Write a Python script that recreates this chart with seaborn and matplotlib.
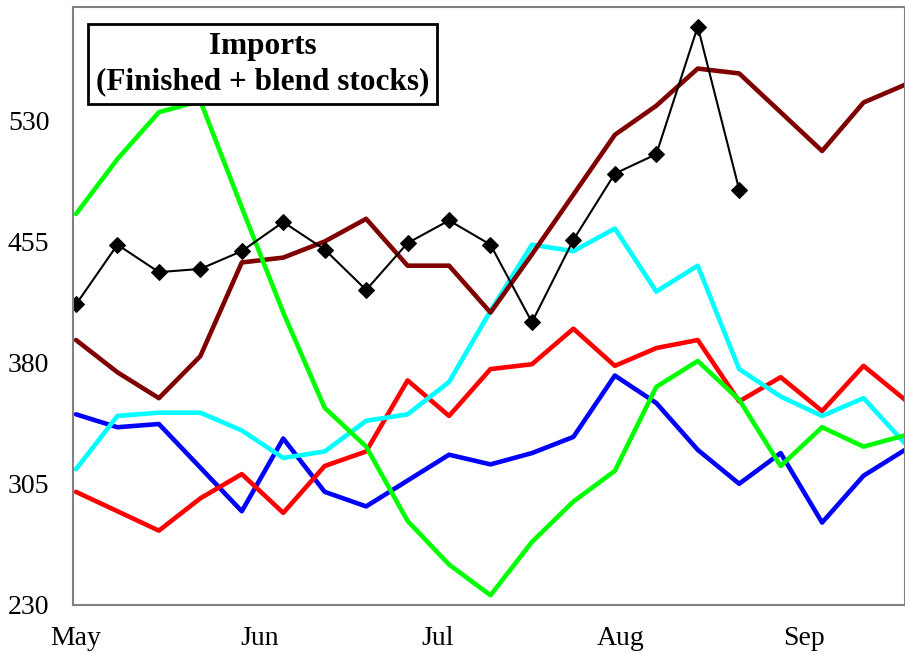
import numpy as np
import pandas as pd
import matplotlib
matplotlib.use('Agg')
import matplotlib.pyplot as plt
import matplotlib.dates as mdates
import seaborn as sns

sns.set_style('white')
plt.rcParams['font.family'] = ['Liberation Serif', 'DejaVu Serif']

# weekly dates
weeks = pd.date_range('2023-05-01', periods=21, freq='7D')

# series values
blue = [348, 340, 342, 315, 288, 333, 300, 291, 307, 323, 317, 324, 334, 372,
        355, 326, 305, 324, 281, 310, 326]
red = [300, 288, 276, 296, 311, 287, 316, 325, 369, 347, 376, 379, 401, 378,
       389, 394, 356, 371, 350, 378, 357]
cyan = [314, 347, 349, 349, 338, 321, 325, 344, 348, 368, 412, 453, 449, 463,
        424, 440, 376, 359, 347, 358, 330]
darkred = [394, 374, 358, 384, 442, 445, 455, 469, 440, 440, 411, 447, 484, 521,
           539, 562, 559, 535, 511, 541, 552]
green = [472, 506, 535, 542, 476, 411, 352, 328, 282, 255, 236, 269, 294, 313,
         365, 381, 357, 316, 340, 328, 335]
black = [416, 453, 436, 438, 449, 467, 450, 425, 454, 468, 453, 405, 456, 497,
         509, 588, 487]

series = [
    ('blue', blue, '#0000ff'),
    ('red', red, '#ff0000'),
    ('cyan', cyan, '#00ffff'),
    ('darkred', darkred, '#800000'),
    ('green', green, '#00ff00'),
]

fig = plt.figure(figsize=(9.05, 6.54), dpi=100)
ax = fig.add_axes([0.0807, 0.075, 0.9193, 0.914])

for name, vals, col in series:
    df = pd.DataFrame({'date': weeks[:len(vals)], 'value': vals})
    sns.lineplot(data=df, x='date', y='value', color=col, linewidth=3.3, ax=ax)

df_black = pd.DataFrame({'date': weeks[:len(black)], 'value': black})
sns.lineplot(data=df_black, x='date', y='value', color='black', linewidth=1.5,
             marker='D', markersize=8.5, markeredgecolor='black', ax=ax)

ax.set_ylim(230, 600)
ax.set_xlim(weeks[0] - pd.Timedelta(hours=12), weeks[-1])
ax.set_yticks([230, 305, 380, 455, 530])
ax.xaxis.set_major_locator(mdates.MonthLocator())
ax.xaxis.set_major_formatter(mdates.DateFormatter('%b'))
ax.tick_params(axis='both', length=0, labelsize=20, colors='black')
ax.tick_params(axis='y', pad=17)
ax.tick_params(axis='x', pad=15)
ax.set_xlabel('')
ax.set_ylabel('')

for s in ['left', 'bottom', 'top', 'right']:
    ax.spines[s].set_color('#808080')
    ax.spines[s].set_linewidth(1.5)

ax.text(0.228, 0.905, 'Imports\n(Finished + blend stocks)', transform=ax.transAxes,
        ha='center', va='center', fontsize=22.5, fontweight='bold', linespacing=1.3,
        color='black',
        bbox=dict(boxstyle='square,pad=0.25', facecolor='white', edgecolor='black',
                  linewidth=2))

fig.savefig('out.png', dpi=100)
